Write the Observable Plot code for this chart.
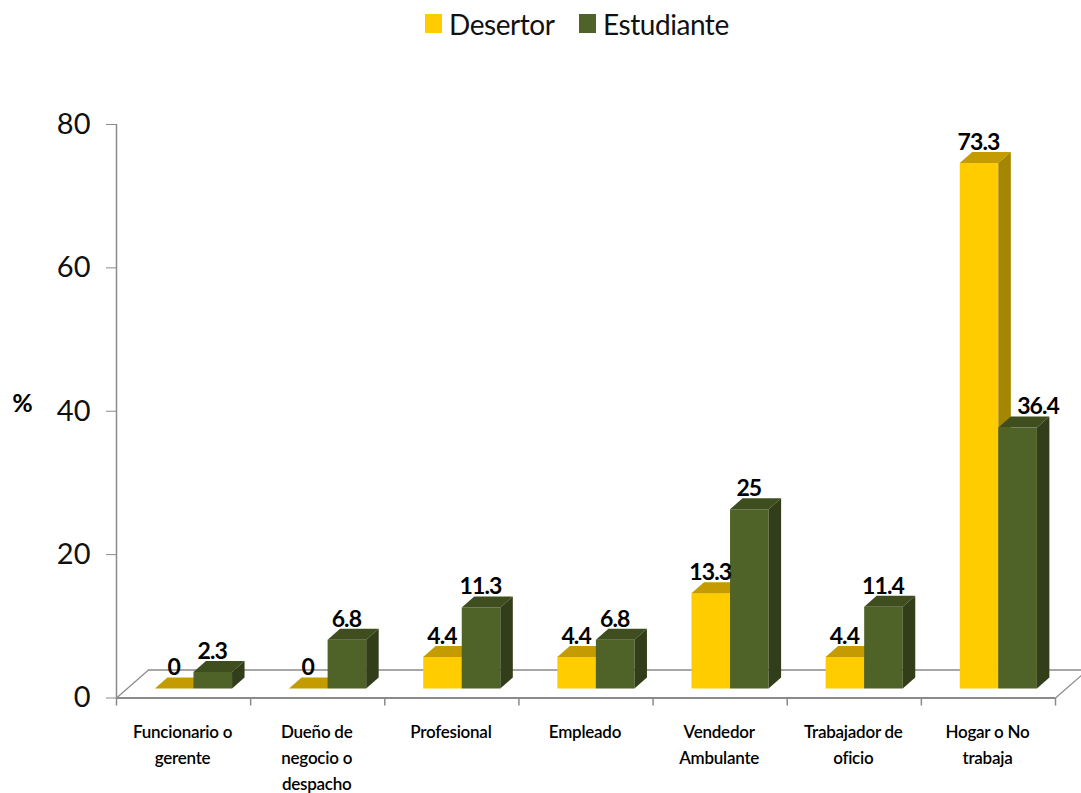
<!DOCTYPE html>
<html>
<head>
<meta charset="utf-8">
<script src="https://cdn.jsdelivr.net/npm/d3@7"></script>
<script src="https://cdn.jsdelivr.net/npm/@observablehq/plot@0.6"></script>
<style>
html,body{margin:0;padding:0;background:#fff;overflow:hidden;}
#legend{position:relative;height:50px;font-family:Lato,sans-serif;font-size:28px;letter-spacing:-0.45px;color:#111;}
#legend span{position:absolute;white-space:nowrap;}
.sw{width:17px;height:19px;top:14px;}
.lb{top:6px;line-height:36px;}
.dl text{letter-spacing:-0.9px;}
.cat text{letter-spacing:-0.25px;}
</style>
</head>
<body>
<div id="legend">
  <span class="sw" style="left:425px;background:#FFCC00"></span><span class="lb" style="left:449px">Desertor</span>
  <span class="sw" style="left:579px;background:#4F6228"></span><span class="lb" style="left:603px">Estudiante</span>
</div>
<div id="chart"></div>
<script>
const categories = ["Funcionario o\ngerente","Dueño de\nnegocio o\ndespacho","Profesional","Empleado","Vendedor\nAmbulante","Trabajador de\noficio","Hogar o No\ntrabaja"];
const desertor = [0,0,4.4,4.4,13.3,4.4,73.3];
const estudiante = [2.3,6.8,11.3,6.8,25,11.4,36.4];
const yTicks = [0,20,40,60,80];

const GREY = "#8a8a8a";
const yellow = {front:"#FFCC00", top:"#C49B00", side:"#A58600"};
const green = {front:"#4F6228", top:"#3E4E1F", side:"#323E19"};
const barInset = 0.29, barW = 0.2875;
const depthX = 12.5, depthY = -11, liftY = -9;
const floorX = 32 / 134.14, floorY = 28 / 7.165;

function bar3d(values, offset, col) {
  return Plot.rect(values, {
    x1: (d,i) => i + barInset + offset,
    x2: (d,i) => i + barInset + offset + barW,
    y1: () => 0,
    y2: d => d,
    fill: col.front,
    dy: liftY,
    render(index, scales, ch, dims, ctx, next) {
      const g = next(index, scales, ch, dims, ctx);
      const s = d3.select(g);
      for (const i of index) {
        const l = ch.x1[i], r = ch.x2[i], t = ch.y2[i], b = ch.y1[i];
        s.append("polygon").attr("fill", col.top)
          .attr("points", [[l,t],[r,t],[r+depthX,t+depthY],[l+depthX,t+depthY]].join(" "));
        s.append("polygon").attr("fill", col.side)
          .attr("points", [[r,t],[r+depthX,t+depthY],[r+depthX,b+depthY],[r,b]].join(" "));
      }
      return g;
    }
  });
}

function labels(values, offset, filter, dx) {
  return Plot.text(values, {
    filter,
    x: (d,i) => i + barInset + offset + barW/2,
    y: d => d,
    text: d => String(d),
    dy: liftY - 21,
    dx,
    className: "dl",
    fontFamily: "Lato",
    fontWeight: 700,
    fontSize: 23,
    fill: "#000"
  });
}

const plot = Plot.plot({
  width: 1081,
  height: 743,
  marginLeft: 116,
  marginRight: 26,
  marginTop: 74,
  marginBottom: 95.5,
  style: {fontFamily: "Lato", background: "#fff", overflow: "hidden"},
  x: {domain: [0,7], axis: null},
  y: {domain: [0,80], axis: null},
  marks: [
    // floor
    Plot.ruleY([0], {x1: () => 0, x2: () => 7.3, dx: 32, dy: -28, stroke: GREY, strokeWidth: 1.5}),
    Plot.link([0,7], {x1: d => d, x2: d => d + floorX, y1: () => 0, y2: () => floorY, stroke: GREY, strokeWidth: 1.2}),
    // axes
    Plot.ruleX([0], {y1: () => 0, y2: () => 80, stroke: GREY, strokeWidth: 1.5}),
    Plot.ruleY([0], {x1: () => 0, x2: () => 7, stroke: GREY, strokeWidth: 2}),
    Plot.axisX({ticks: d3.range(8), tickSize: 8, tickFormat: () => "", stroke: GREY, strokeWidth: 1.5, label: null}),
    Plot.axisY({ticks: yTicks, tickSize: 10, tickPadding: 16, fontSize: 29, fontFamily: "Lato", fill: "#111", stroke: GREY, label: null}),
    Plot.text(categories, {
      x: (d,i) => i + 0.5,
      y: () => 0,
      text: d => d,
      lineAnchor: "top",
      dy: 22,
      dx: -1,
      lineHeight: 1.53,
      className: "cat",
      fontFamily: "Lato",
      fontWeight: 600,
      fontSize: 17,
      fill: "#000"
    }),
    Plot.text(["%"], {
      x: () => 0,
      y: () => 40,
      text: d => d,
      dx: -94,
      dy: -7,
      fontFamily: "Lato",
      fontWeight: 700,
      fontSize: 25,
      fill: "#000"
    }),
    // bars
    bar3d(desertor, 0, yellow),
    bar3d(estudiante, barW, green),
    labels(desertor, 0, undefined, -1),
    labels(estudiante, barW, (d,i) => i !== 6, -1),
    labels(estudiante, barW, (d,i) => i === 6, 20)
  ]
});
document.getElementById("chart").appendChild(plot);
</script>
</body>
</html>
